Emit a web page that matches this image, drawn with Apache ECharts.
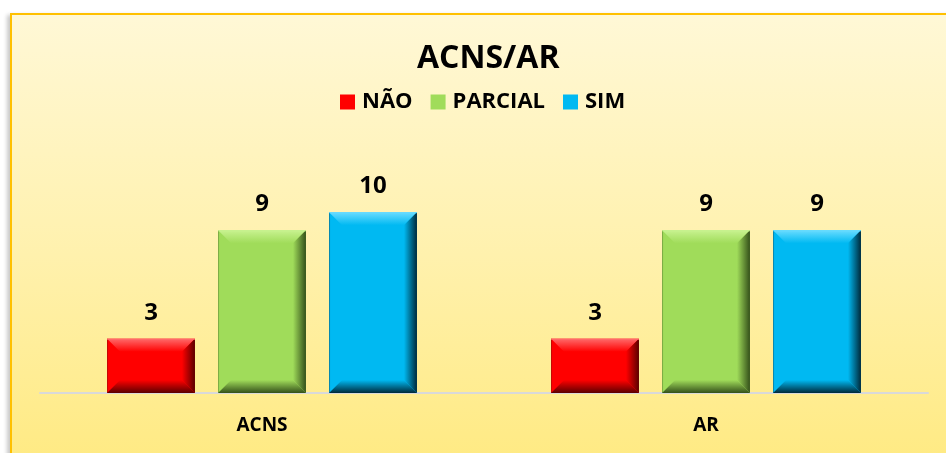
<!DOCTYPE html>
<html>
<head>
<meta charset="utf-8">
<title>ACNS/AR</title>
<script src="https://cdn.jsdelivr.net/npm/echarts@6/dist/echarts.min.js"></script>
<style>
  html, body { margin: 0; padding: 0; background: #fff; overflow: hidden; }
  #frame {
    position: absolute; left: 10px; top: 13px; width: 980px; height: 480px;
    border: 2px solid #ffc000;
    background: linear-gradient(to bottom, #fff8d6 0%, #fff1ad 50%, #ffe97c 100%);
    box-shadow: -3px 2px 4px rgba(0, 0, 0, 0.22);
  }
  #chart { position: absolute; left: 0; top: 0; width: 946px; height: 453px; }
</style>
</head>
<body>
<div id="frame"></div>
<div id="chart"></div>
<script>
// dados
const categories = ['ACNS', 'AR']
const seriesNames = ['NÃO', 'PARCIAL', 'SIM']
const naoValues = [3, 3]
const parcialValues = [9, 9]
const simValues = [10, 9]

// cores: principal, chanfro claro, chanfro escuro
const palette = [
  { main: '#ff0000', light: '#ff6a6a', dark: '#5a0000' },
  { main: '#a0dc5a', light: '#c8f290', dark: '#34501a' },
  { main: '#00b9f2', light: '#6adcff', dark: '#00293a' }
]

const font = '"Open Sans", "DejaVu Sans", sans-serif'

function grad(x, y, x2, y2, c1, c2) {
  return new echarts.graphic.LinearGradient(x, y, x2, y2, [
    { offset: 0, color: c1 },
    { offset: 1, color: c2 }
  ])
}

// barra chanfrada desenhada a partir das coordenadas do eixo
function makeRender(slot, col) {
  return function(params, api) {
    const idx = api.value(0)
    const val = api.value(1)
    const band = api.size([1, 0])[0]
    const top = api.coord([idx, val])
    const base = api.coord([idx, 0])
    const w = band * 0.198
    const cx = top[0] + slot * band * 0.25
    const l = cx - w / 2
    const r = cx + w / 2
    const t = top[1]
    const b = base[1]
    const e = Math.min(13, (b - t) / 2)
    return {
      type: 'group',
      children: [
        { type: 'rect', shape: { x: l, y: t, width: w, height: b - t }, style: { fill: col.main } },
        { type: 'polygon', shape: { points: [[l, t], [r, t], [r - e, t + e], [l + e, t + e]] },
          style: { fill: grad(0, 0, 0, 1, col.light, col.main) } },
        { type: 'polygon', shape: { points: [[l, b], [l + e, b - e], [r - e, b - e], [r, b]] },
          style: { fill: grad(0, 0, 0, 1, col.main, col.dark) } },
        { type: 'polygon', shape: { points: [[r, t], [r, b], [r - e, b - e], [r - e, t + e]] },
          style: { fill: grad(0, 0, 1, 0, col.main, col.dark) } },
        { type: 'line', shape: { x1: l + 0.5, y1: t, x2: l + 0.5, y2: b },
          style: { stroke: col.dark, lineWidth: 1, opacity: 0.35 } },
        { type: 'line', shape: { x1: l, y1: t + 0.5, x2: r, y2: t + 0.5 },
          style: { stroke: col.light, lineWidth: 1 } },
        { type: 'text', x: cx, y: t - 14,
          style: { text: String(val), fill: '#000', font: 'bold 24px ' + font, align: 'center', verticalAlign: 'bottom' } }
      ]
    }
  }
}

const valueLists = [naoValues, parcialValues, simValues]

const chart = echarts.init(document.getElementById('chart'), null, { renderer: 'canvas' })

const option = {
  animation: false,
  backgroundColor: 'transparent',
  title: {
    text: 'ACNS/AR',
    left: 412,
    top: 38,
    textStyle: { fontFamily: font, fontWeight: 'bold', fontSize: 32, color: '#000' }
  },
  legend: {
    left: 335,
    top: 86,
    icon: 'rect',
    itemWidth: 15,
    itemHeight: 15,
    itemGap: 18,
    data: seriesNames,
    textStyle: { fontFamily: font, fontWeight: 'bold', fontSize: 22, color: '#000', padding: [0, 0, 0, 2] }
  },
  grid: { left: 40, right: 18, top: 176, bottom: 60 },
  xAxis: {
    type: 'category',
    data: categories,
    axisLine: { lineStyle: { color: '#d9d9d9', width: 2 } },
    axisTick: { show: false },
    axisLabel: { margin: 23, fontFamily: font, fontWeight: 'bold', fontSize: 19, color: '#000' }
  },
  yAxis: {
    type: 'value',
    min: 0,
    max: 12,
    show: false,
    splitLine: { show: false }
  },
  series: seriesNames.map(function(name, i) {
    return {
      name: name,
      type: 'custom',
      itemStyle: { color: palette[i].main },
      encode: { x: 0, y: 1 },
      data: valueLists[i].map(function(v, k) { return [k, v] }),
      renderItem: makeRender(i - 1, palette[i])
    }
  })
}

chart.setOption(option)
</script>
</body>
</html>
